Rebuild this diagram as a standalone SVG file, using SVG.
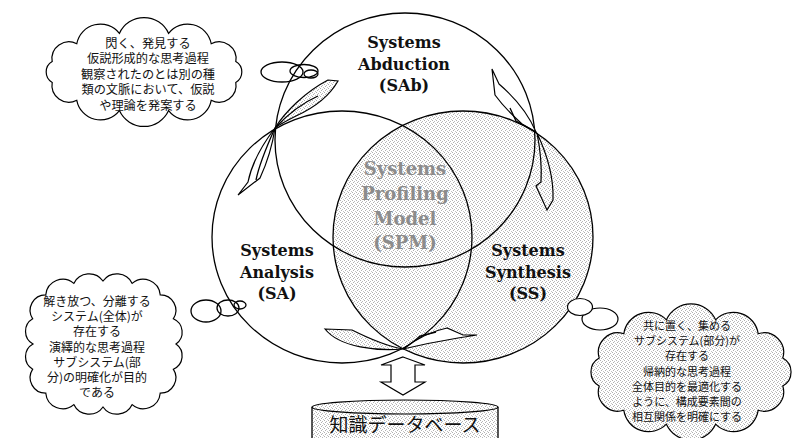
<svg xmlns="http://www.w3.org/2000/svg" width="796" height="438" viewBox="0 0 796 438">
  <defs>
    <!-- fine halftone stipple used for shaded areas -->
    <pattern id="dots" width="4" height="4" patternUnits="userSpaceOnUse">
      <rect width="4" height="4" fill="#fff"/>
      <rect x="0" y="0" width="1" height="1" fill="#b0b0b0"/>
      <rect x="2" y="1" width="1" height="1" fill="#bababa"/>
      <rect x="1" y="2" width="1" height="1" fill="#b0b0b0"/>
      <rect x="3" y="3" width="1" height="1" fill="#c4c4c4"/>
    </pattern>
    <style>
      .ln { fill: none; stroke: #000; stroke-width: 1.3; }
      .wh { fill: #fff; stroke: #000; stroke-width: 1.2; }
      .st { fill: url(#dots); stroke: #000; stroke-width: 1.2; }
      .lbl { font-family: "DejaVu Serif", "Liberation Serif", serif; font-weight: bold; font-size: 16px; text-anchor: middle; fill: #111; }
      .core { font-family: "DejaVu Serif", "Liberation Serif", serif; font-weight: bold; font-size: 18px; text-anchor: middle; fill: #8c8c8c; }
      .jp { font-family: "Noto Sans CJK JP", "Noto Sans", sans-serif; font-size: 12.2px; text-anchor: middle; fill: #111; }
      .jpm { font-family: "Noto Sans CJK JP", "Noto Sans", sans-serif; font-size: 12px; text-anchor: middle; fill: #111; }
      .jps { font-family: "Noto Sans CJK JP", "Noto Sans", sans-serif; font-size: 11px; text-anchor: middle; fill: #111; }
      .db { font-family: "Noto Sans CJK JP", "Noto Sans", sans-serif; font-size: 19px; text-anchor: middle; fill: #111; }
    </style>
  </defs>

  <rect width="796" height="438" fill="#fff"/>

  <!-- shaded synthesis disc underneath the outlines -->
  <ellipse cx="463" cy="237" rx="130" ry="126" fill="url(#dots)"/>

  <!-- Systems Abduction -->
  <g id="n-sab">
    <ellipse class="ln" cx="405" cy="140" rx="130" ry="127"/>
    <text class="lbl" x="404" y="48">Systems</text>
    <text class="lbl" x="404" y="70">Abduction</text>
    <text class="lbl" x="404" y="91">(SAb)</text>
  </g>

  <!-- Systems Analysis -->
  <g id="n-sa">
    <ellipse class="ln" cx="342" cy="237" rx="130" ry="126"/>
    <text class="lbl" x="277" y="256">Systems</text>
    <text class="lbl" x="277" y="278">Analysis</text>
    <text class="lbl" x="277" y="299">(SA)</text>
  </g>

  <!-- Systems Synthesis -->
  <g id="n-ss">
    <ellipse class="ln" cx="463" cy="237" rx="130" ry="126"/>
    <text class="lbl" x="528" y="256">Systems</text>
    <text class="lbl" x="528" y="278">Synthesis</text>
    <text class="lbl" x="528" y="299">(SS)</text>
  </g>

  <!-- Systems Profiling Model at the overlap -->
  <g id="n-spm">
    <text class="core" x="405" y="175">Systems</text>
    <text class="core" x="405" y="200">Profiling</text>
    <text class="core" x="405" y="225">Model</text>
    <text class="core" x="405" y="249">(SPM)</text>
  </g>

  <!-- thought cloud: abduction -->
  <g id="cloud-abd">
    <path class="wh" d="M52.2,61.6 A17,17 0 0 1 76.8,43.7 A24,24 0 0 1 119.4,33.4 A27,27 0 0 1 168.6,33.4 A24,24 0 0 1 211.2,43.7 A17,17 0 0 1 235.8,61.6 A12,12 0 0 1 235.8,82.4 A17,17 0 0 1 211.2,100.3 A24,24 0 0 1 168.6,110.6 A27,27 0 0 1 119.4,110.6 A24,24 0 0 1 76.8,100.3 A17,17 0 0 1 52.2,82.4 A12,12 0 0 1 52.2,61.6 Z"/>
    <ellipse class="ln" cx="282" cy="72" rx="21" ry="10"/>
    <ellipse class="ln" cx="304" cy="71" rx="14" ry="6.5"/>
    <ellipse class="ln" cx="311" cy="74" rx="7" ry="4"/>
    <text class="jp" x="148" y="47.5">閃く、発見する</text>
    <text class="jp" x="148" y="63">仮説形成的な思考過程</text>
    <text class="jp" x="148" y="78.5">観察されたのとは別の種</text>
    <text class="jp" x="148" y="94">類の文脈において、仮説</text>
    <text class="jp" x="148" y="109.5">や理論を発案する</text>
  </g>

  <!-- thought cloud: analysis -->
  <g id="cloud-ana">
    <path class="wh" d="M32.7,318.8 A15.5,15.5 0 0 1 45.8,294.8 A17,17 0 0 1 73.8,283.4 A17,17 0 0 1 103,281 A17,17 0 0 1 132.2,283.4 A17,17 0 0 1 160.2,294.8 A15.5,15.5 0 0 1 173.3,318.8 A14.5,14.5 0 0 1 176,344 A14.5,14.5 0 0 1 173.3,369.2 A15.5,15.5 0 0 1 160.2,393.2 A17,17 0 0 1 132.2,404.6 A17,17 0 0 1 103,407 A17,17 0 0 1 73.8,404.6 A17,17 0 0 1 45.8,393.2 A15.5,15.5 0 0 1 32.7,369.2 A14.5,14.5 0 0 1 33,344 A14.5,14.5 0 0 1 32.7,318.8 Z"/>
    <ellipse class="ln" cx="206" cy="311" rx="15" ry="11"/>
    <ellipse class="ln" cx="228" cy="308" rx="11" ry="8"/>
    <ellipse class="ln" cx="240" cy="305" rx="6" ry="4"/>
    <text class="jpm" x="97" y="306">解き放つ、分離する</text>
    <text class="jpm" x="97" y="321.2">システム(全体)が</text>
    <text class="jpm" x="97" y="336.4">存在する</text>
    <text class="jpm" x="97" y="351.6">演繹的な思考過程</text>
    <text class="jpm" x="97" y="366.8">サブシステム(部</text>
    <text class="jpm" x="97" y="382">分)の明確化が目的</text>
    <text class="jpm" x="97" y="397.2">である</text>
  </g>

  <!-- thought cloud: synthesis -->
  <g id="cloud-syn">
    <path class="st" d="M599.2,358 A19.5,19.5 0 0 1 623.8,333.8 A25,25 0 0 1 666.4,319.8 A27,27 0 0 1 715.6,319.8 A25,25 0 0 1 758.2,333.8 A19.5,19.5 0 0 1 782.8,358 A16,16 0 0 1 782.8,386 A19.5,19.5 0 0 1 758.2,410.2 A25,25 0 0 1 715.6,424.2 A27,27 0 0 1 666.4,424.2 A25,25 0 0 1 623.8,410.2 A19.5,19.5 0 0 1 599.2,386 A16,16 0 0 1 599.2,358 Z"/>
    <ellipse class="wh" cx="600" cy="319" rx="18" ry="11"/>
    <ellipse class="wh" cx="580" cy="307" rx="12.5" ry="8.5"/>
    <text class="jps" x="687" y="330">共に置く、集める</text>
    <text class="jps" x="687" y="345.2">サブシステム(部分)が</text>
    <text class="jps" x="687" y="360.4">存在する</text>
    <text class="jps" x="687" y="375.6">帰納的な思考過程</text>
    <text class="jps" x="687" y="390.8">全体目的を最適化する</text>
    <text class="jps" x="687" y="406">ように、構成要素間の</text>
    <text class="jps" x="687" y="421.2">相互関係を明確にする</text>
  </g>

  <!-- knowledge database cylinder -->
  <g id="db">
    <path fill="url(#dots)" d="M312,407 L312,440 L498,440 L498,407 Z"/>
    <ellipse class="st" cx="405" cy="407" rx="93" ry="7"/>
    <path class="ln" d="M312,407 L312,440 M498,407 L498,440"/>
    <text class="db" x="405" y="432">知識データベース</text>
  </g>

  <!-- flow arrows between the three modes and to the database -->
  <g id="connectors">
    <!-- abduction to analysis (left crossing) -->
    <path class="st" d="M275,128 C285,112 305,92 328,80 L338,81 C330,95 318,106 296,116 C288,120 280,124 275,128 Z"/>
    <path class="ln" d="M275,128 C288,114 300,104 318,96"/>
    <path class="wh" d="M275,128 C262,145 252,162 248,182 L238,195 L260,178 C266,165 272,148 275,128 Z"/>
    <path class="ln" d="M275,128 C266,148 259,165 256,180"/>
    <!-- synthesis to abduction (right crossing) -->
    <path class="wh" d="M536,132 C528,113 513,96 499,84 L492,69 L495,95 C503,106 512,115 522,124 L536,132 Z"/>
    <path class="ln" d="M510,108 L516,121 L536,132"/>
    <path class="st" d="M537,133 C545,150 554,175 553,200 L547,210 L536,186 L541,182 C542,165 540,148 537,133 Z"/>
    <!-- analysis to synthesis (bottom crossing) -->
    <path class="st" d="M325,329 L352,330 C368,338 386,346 403,349 C378,351 340,348 325,329 Z"/>
    <path class="wh" d="M403,349 C415,340 432,331 447,328 L463,335 L477,335 L458,338 C440,341 420,345 403,349 Z"/>
    <path class="ln" d="M403,349 C412,343 418,338 420,336 L436,332"/>
    <!-- two-way link to the database -->
    <path class="wh" d="M403,357 L425,365 L415,365 L415,382 L425,382 L403,395 L381,382 L391,382 L391,365 L381,365 Z"/>
  </g>
</svg>
